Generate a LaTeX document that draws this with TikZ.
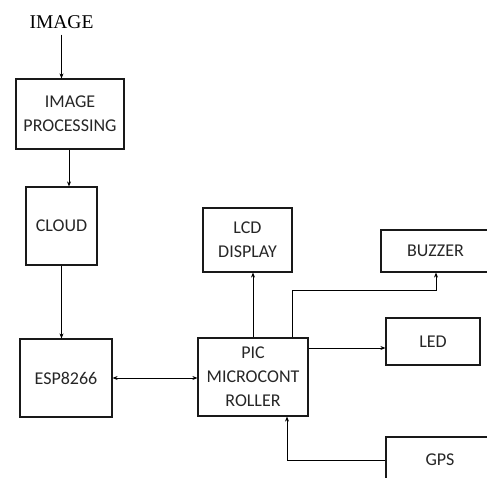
\documentclass[tikz,border=0pt]{standalone}
\usepackage{fontspec}
\setmainfont{Carlito}
\newfontfamily\titlefont{Liberation Serif}
\usetikzlibrary{arrows.meta}
\begin{document}
\begin{tikzpicture}[x=1pt,y=-1pt,
  blk/.style={draw=black!90,line width=1.2pt,rectangle,inner sep=0pt,align=center,
    font=\fontsize{18}{24}\selectfont,text=black!85},
  conn/.style={line width=1pt,-{Stealth[length=5pt,width=4pt]}}]
\useasboundingbox (0,0) rectangle (487,478);
\clip (0,0) rectangle (487,478);
\node[font=\titlefont\fontsize{19.5}{22}\selectfont,inner sep=0pt] (title) at (61.5,22) {IMAGE};
\node[blk,minimum width=108pt,minimum height=70pt] (imgp) at (70,114) {IMAGE\\PROCESSING};
\node[blk,minimum width=71pt,minimum height=78pt] (cloud) at (61.5,226) {CLOUD};
\node[blk,minimum width=92pt,minimum height=78pt] (esp) at (66,378) {ESP8266};
\node[blk,minimum width=110pt,minimum height=78pt] (pic) at (253,377) {PIC\\MICROCONT\\ROLLER};
\node[blk,minimum width=89pt,minimum height=64pt] (lcd) at (247.5,240) {LCD\\DISPLAY};
\node[blk,minimum width=109pt,minimum height=42pt] (buzzer) at (435.5,251) {BUZZER};
\node[blk,minimum width=94pt,minimum height=47pt] (led) at (433,341.5) {LED};
\node[blk,minimum width=108pt,minimum height=46pt] (gps) at (440,460) {GPS};
\coordinate (bz) at (436,290);
\draw[conn] ([yshift=-6pt]title.south) -- (title.south |- imgp.north);
\draw[conn] ([xshift=-1pt]imgp.south) -- ([xshift=-1pt]imgp.south |- cloud.north);
\draw[conn] (cloud.south) -- (cloud.south |- esp.north);
\draw[line width=1pt,{Stealth[length=5pt,width=4pt]}-{Stealth[length=5pt,width=4pt]}] (esp.east) -- (esp.east -| pic.west);
\draw[conn] (pic.north) -- (pic.north |- lcd.south);
\draw[conn] ([xshift=39pt]pic.north) |- (bz) -- (bz |- buzzer.south);
\draw[conn] ([yshift=29pt]pic.east) -- ([yshift=29pt]pic.east -| led.west);
\draw[conn] (gps.west) -| ([xshift=34pt]pic.south);
\end{tikzpicture}
\end{document}
